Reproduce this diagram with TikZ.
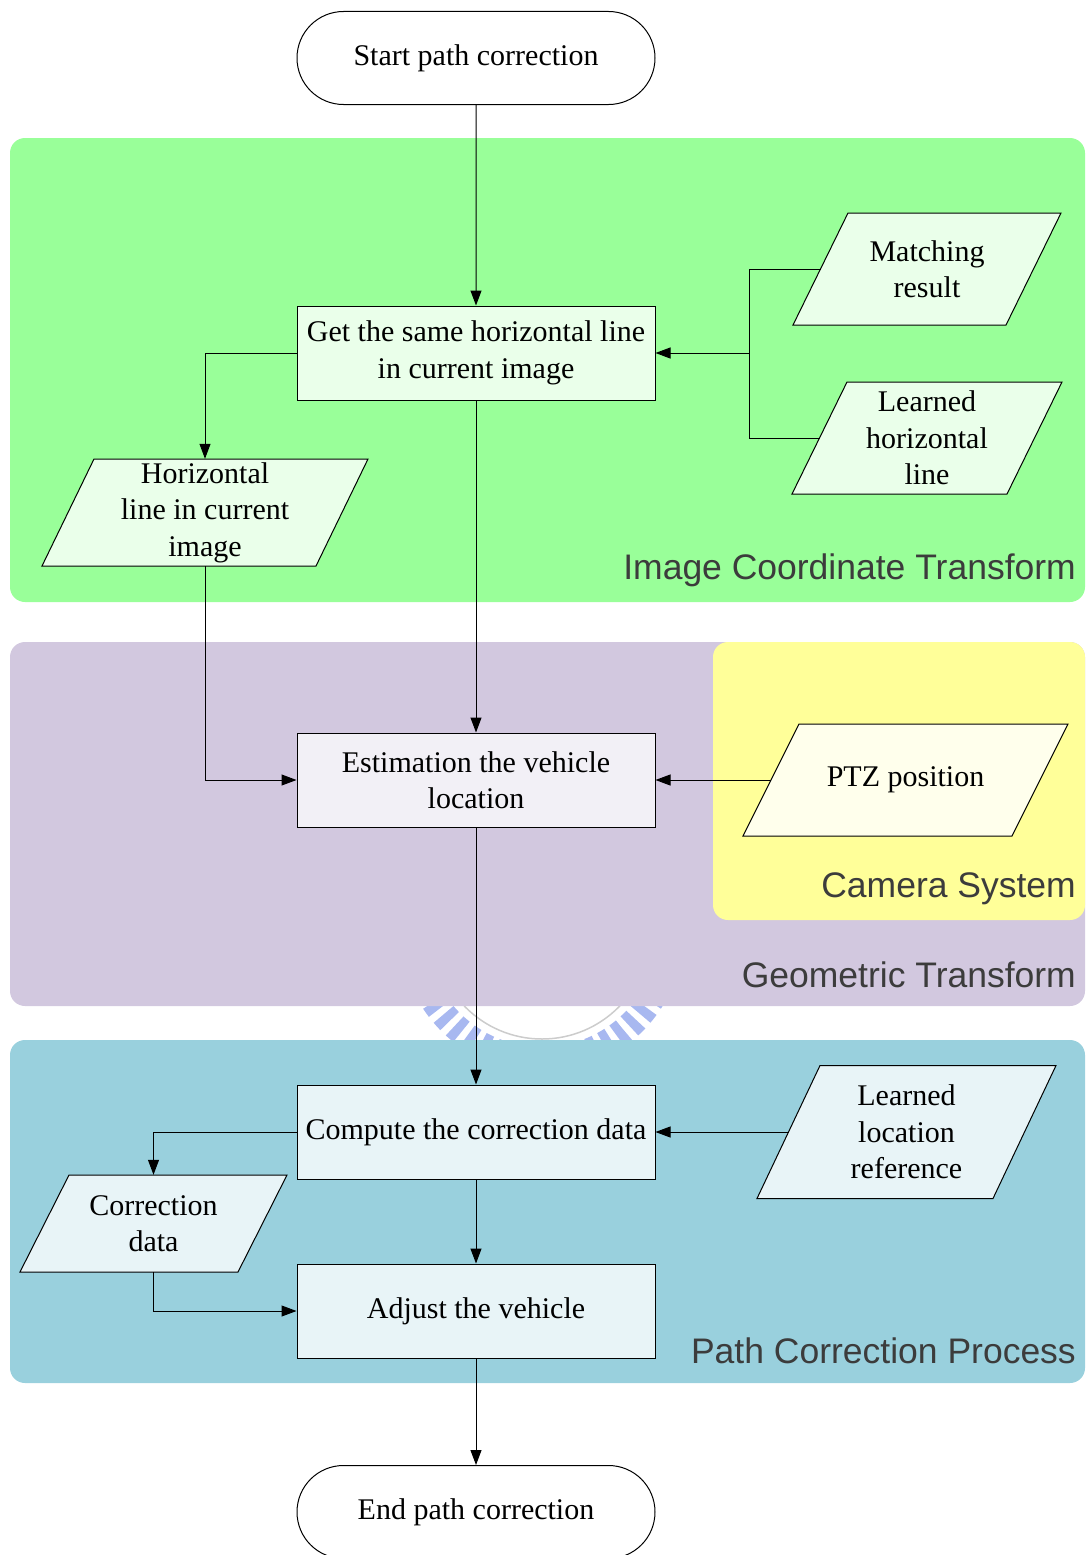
\documentclass[tikz,border=0pt]{standalone}
\usepackage{fontspec}
\setmainfont{Liberation Serif}
\setsansfont{Liberation Sans}
\usetikzlibrary{shapes.geometric,shapes.misc,arrows.meta,calc}

\definecolor{rgreen}{HTML}{99FF99}
\definecolor{rpurple}{HTML}{D2C8DF}
\definecolor{ryellow}{HTML}{FFFF99}
\definecolor{rblue}{HTML}{99D0DD}
\definecolor{fgreen}{HTML}{EAFFEA}
\definecolor{fpurple}{HTML}{F2F0F6}
\definecolor{fblue}{HTML}{E8F4F7}
\definecolor{fyellow}{HTML}{FFFFEC}
\definecolor{lbl}{HTML}{3C3C3C}
\definecolor{wm}{HTML}{A8B8F0}

% name, cx, cy, width, height, slant, fill, text
\newcommand{\dataio}[8]{%
  \draw[line width=1pt, fill=#7] ({#2-#4/2+#6},{#3-#5/2}) -- ({#2+#4/2},{#3-#5/2})
     -- ({#2+#4/2-#6},{#3+#5/2}) -- ({#2-#4/2},{#3+#5/2}) -- cycle;
  \node[minimum width=#4pt, minimum height=#5pt] (#1) at (#2,#3) {#8};
  \coordinate (#1-l) at ({#2-#4/2+#6/2},#3);
}

\begin{document}
\begin{tikzpicture}[x=1pt,y=-1pt,
 every node/.style={font=\fontsize{30}{36.5}\selectfont, align=center, inner sep=0pt},
 procbox/.style={draw, line width=1pt, minimum width=358pt, minimum height=94pt},
 termbox/.style={draw, rounded rectangle, line width=1pt, minimum width=358pt, minimum height=93pt, fill=white},
 grouplbl/.style={font=\sffamily\fontsize{35.5}{40}\selectfont, text=lbl, anchor=east},
 conn/.style={line width=1pt, -{Triangle[length=15pt,width=11pt]}},
 plainline/.style={line width=1pt}]
\useasboundingbox (0,0) rectangle (1085,1555);

% watermark remnant
\begin{scope}
\clip (0,1006) rectangle (1085,1040);
\draw[color=wm, line width=26pt, dash pattern=on 9pt off 7pt] (542,931) circle (129pt);
\draw[gray!40, line width=1.5pt] (542,931) circle (108pt);
\end{scope}

% regions
\fill[rgreen, rounded corners=15pt] (10,138) rectangle (1085,602);
\fill[rpurple, rounded corners=15pt] (10,642) rectangle (1085,1006);
\fill[ryellow, rounded corners=15pt] (713,642) rectangle (1085,920);
\fill[rblue, rounded corners=15pt] (10,1040) rectangle (1085,1383);

\node[grouplbl] (lblict) at (1076,570) {Image Coordinate Transform};
\node[grouplbl] (lblgt) at (1076,975) {Geometric Transform};
\node[grouplbl] (lblcs) at (1076,889) {Camera System};
\node[grouplbl] (lblpcp) at (1076,1351) {Path Correction Process};

% nodes
\node[termbox] (start) at (476,58) {Start path correction};
\node[procbox, fill=fgreen] (get) at (476,353) {Get the same horizontal line\\in current image};
\dataio{match}{927}{269}{268}{112}{55}{fgreen}{Matching\\result}
\dataio{lhl}{927}{438}{270}{112}{55}{fgreen}{Learned\\horizontal\\line}
\dataio{hl}{205}{512.5}{326}{107}{52}{fgreen}{Horizontal\\line in current\\image}
\node[procbox, fill=fpurple] (est) at (476,780) {Estimation the vehicle\\location};
\dataio{ptz}{905.5}{780}{325}{112}{56}{fyellow}{PTZ position}
\node[procbox, fill=fblue] (comp) at (476,1132) {Compute the correction data};
\dataio{llr}{906.5}{1132}{299}{133}{63}{fblue}{Learned\\location\\reference}
\dataio{cd}{153.5}{1223.5}{267}{97}{49}{fblue}{Correction\\data}
\node[procbox, fill=fblue] (adj) at (476,1311) {Adjust the vehicle};
\node[termbox] (endn) at (476,1512) {End path correction};

\coordinate (jn) at (749,353);

% connectors
\draw[conn] (start) -- (get);
\draw[plainline] (match-l) -| (jn);
\draw[plainline] (lhl-l) -| (jn);
\draw[conn] (jn) -- (get.east);
\draw[conn] (get.west) -| (hl.north);
\draw[conn] (hl.south) |- (est.west);
\draw[conn] (get) -- (est);
\draw[conn] (ptz-l) -- (est.east);
\draw[conn] (est) -- (comp);
\draw[conn] (llr-l) -- (comp.east);
\draw[conn] (comp.west) -| (cd.north);
\draw[conn] (cd.south) |- (adj.west);
\draw[conn] (comp) -- (adj);
\draw[conn] (adj) -- (endn);
\end{tikzpicture}
\end{document}
